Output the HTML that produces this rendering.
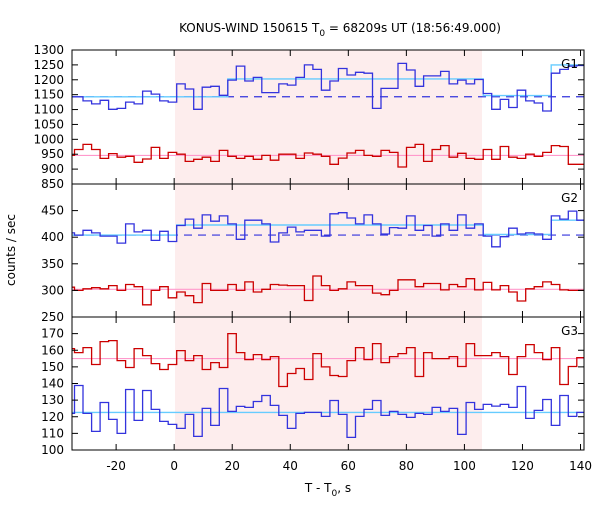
<!DOCTYPE html>
<html><head><meta charset="utf-8">
<style>
body{margin:0;background:#fff;}
svg text{font-family:"DejaVu Sans","Liberation Sans",sans-serif;font-size:12px;fill:#000;}
</style></head>
<body>
<svg id="chart" width="600" height="500" viewBox="0 0 600 500" xmlns="http://www.w3.org/2000/svg">
<defs><clipPath id="clip"><rect x="72" y="50" width="512" height="400"/></clipPath></defs>
<rect x="175" y="50" width="307" height="400" fill="#fdeded"/>
<g id="marks" clip-path="url(#clip)"></g>
<g id="axes"></g>
<text x="340" y="32" text-anchor="middle">KONUS-WIND 150615 T<tspan dy="4" font-size="9">0</tspan><tspan dy="-4"> = 68209s UT (18:56:49.000)</tspan></text>
<text transform="translate(15,250) rotate(-90)" text-anchor="middle">counts / sec</text>
<text x="328" y="492" text-anchor="middle">T - T<tspan dy="4" font-size="9">0</tspan><tspan dy="-4">, s</tspan></text>
</svg>
<script>
const binStart = -37.26;
const binWidth = 2.933;
const g1Blue = [1143,1143,1129,1119,1131,1101,1104,1125,1119,1162,1152,1129,1125,1186,1169,1101,1175,1178,1148,1199,1246,1196,1208,1157,1157,1186,1182,1208,1250,1235,1165,1196,1238,1216,1225,1222,1104,1171,1171,1255,1233,1178,1213,1213,1228,1186,1199,1186,1201,1154,1101,1134,1107,1165,1129,1122,1095,1222,1235,1246,1248];
const g1Red = [946,966,983,966,936,952,940,943,923,934,973,936,956,950,926,933,940,926,963,943,936,943,933,946,930,950,950,936,954,950,943,916,937,954,963,946,943,963,956,907,973,983,926,966,979,940,953,936,933,966,933,976,940,936,950,943,956,979,976,916,916];
const g2Blue = [408,404,413,408,402,402,389,425,410,413,394,411,392,422,434,417,442,430,440,425,396,432,432,425,391,408,419,410,413,413,402,444,446,436,425,442,425,406,418,417,440,413,422,402,425,413,442,417,425,402,382,401,417,406,408,406,396,440,434,449,432];
const g2Red = [306,300,303,305,303,309,300,311,307,273,300,307,286,297,290,277,313,300,300,311,300,316,297,302,311,310,309,309,281,327,309,300,303,316,309,309,295,292,300,320,320,307,313,313,301,311,307,322,301,315,301,309,297,280,303,307,316,311,301,300,300];
const g3Red = [161,158.6,161.6,151.4,165.2,165.8,153.8,149.6,161,156.8,152,148.4,151.4,159.8,153.8,156.8,148.4,152.6,149.6,170,158.6,154.4,157.4,154.4,156.2,138.2,146,149,142.4,158,150,144.8,144.2,153.8,161.6,154.4,164,152.6,156.2,158,161.6,144.2,158.6,155,155,156.2,150.2,164,156.8,156.8,158.6,156.2,145.4,156.2,163.4,158.6,154.4,161.6,139.4,150.2,155.6];
const g3Blue = [122,138.8,122,111.2,128.6,118.4,110,136.4,117.8,135.8,124.4,117.2,115.4,113,121.4,108.2,125,114.8,137,123.2,126.2,125.6,129.2,132.8,126.8,120.8,113,122,122.6,122.6,120.2,129.8,121.4,107.6,120.2,124.4,129.8,120.8,123.2,121.4,119.6,122,121.4,125.6,123.2,125,109.4,128.6,124.4,127.4,126.4,127.4,125.6,138.2,119,123.8,130.4,114.8,132.8,120.2,122.6];
// model levels: [tStart, tEnd, value]
const g1Model = [[-40,18.47,1143],[18.47,106.46,1203],[106.46,129.9,1147],[129.9,145,1250]];
const g2Model = [[-40,0.87,404],[0.87,106.46,423],[106.46,129.9,405],[129.9,145,432]];
const g3Model = [[-40,145,122.6]];
const g1Bg = 1143, g2Bg = 404;
const g1RedLevel = 946, g2RedLevel = 302, g3RedLevel = 155;
const xTicks = [-20,0,20,40,60,80,100,120,140];
const g1Ticks = [850,900,950,1000,1050,1100,1150,1200,1250,1300];
const g2Ticks = [250,300,350,400,450];
const g3Ticks = [100,110,120,130,140,150,160,170];

const X0=72,X1=584,TMIN=-35.2,TMAX=141.2;
const xs = t => X0+(t-TMIN)/(TMAX-TMIN)*(X1-X0);
const panels = [
 {name:'g1',top:50,bot:184,vmin:850,vmax:1300,ticks:g1Ticks,label:'G1',blue:g1Blue,red:g1Red,model:g1Model,bg:g1Bg,pink:g1RedLevel},
 {name:'g2',top:184,bot:317,vmin:250,vmax:500,ticks:g2Ticks,label:'G2',blue:g2Blue,red:g2Red,model:g2Model,bg:g2Bg,pink:g2RedLevel},
 {name:'g3',top:317,bot:450,vmin:100,vmax:180,ticks:g3Ticks,label:'G3',blue:g3Blue,red:g3Red,model:g3Model,bg:null,pink:g3RedLevel}
];
const NS='http://www.w3.org/2000/svg';
const marks=document.getElementById('marks'), axes=document.getElementById('axes');
function mk(tag,attrs,parent){const e=document.createElementNS(NS,tag);for(const k in attrs)e.setAttribute(k,attrs[k]);parent.appendChild(e);return e;}
function stepPath(vals,ys){let d='';vals.forEach((v,i)=>{const a=xs(binStart+i*binWidth),b=xs(binStart+(i+1)*binWidth),y=ys(v);d+=(i?'L':'M')+a.toFixed(1)+','+y.toFixed(1)+'L'+b.toFixed(1)+','+y.toFixed(1);});return d;}
panels.forEach(p=>{
 const ys=v=>p.bot-(v-p.vmin)/(p.vmax-p.vmin)*(p.bot-p.top);
 // pink red-level
 let e=mk('line',{x1:X0,x2:X1,y1:ys(p.pink),y2:ys(p.pink),stroke:'#ff99cc','stroke-width':1.2},marks);
 
 
 if(p.bg!==null){
  e=mk('line',{x1:X0,x2:X1,y1:ys(p.bg),y2:ys(p.bg),stroke:'#3333dd','stroke-width':1.2,'stroke-dasharray':'8,6'},marks);
  
  
 }
 let d='';p.model.forEach((s,i)=>{const y=ys(s[2]);d+=(i?'L':'M')+xs(s[0]).toFixed(1)+','+y.toFixed(1)+'L'+xs(s[1]).toFixed(1)+','+y.toFixed(1);});
 e=mk('path',{d:d,fill:'none',stroke:'#66ccff','stroke-width':1.4},marks);
 
 
 e=mk('path',{d:stepPath(p.red,ys),fill:'none',stroke:'#cc0000','stroke-width':1.3},marks);
 
 
 e=mk('path',{d:stepPath(p.blue,ys),fill:'none',stroke:'#3333dd','stroke-width':1.3},marks);
 
 
 // frame
 e=mk('rect',{x:X0,y:p.top,width:X1-X0,height:p.bot-p.top,fill:'none',stroke:'#000','stroke-width':1},axes);
 
 
 p.ticks.forEach(v=>{
  const y=ys(v);
  if(y<p.top-0.5||y>p.bot+0.5)return;
  mk('line',{x1:X0,x2:X0+6,y1:y,y2:y,stroke:'#000'},axes);
  mk('line',{x1:X1,x2:X1-6,y1:y,y2:y,stroke:'#000'},axes);
  const t=mk('text',{x:X0-8,y:y+4,'text-anchor':'end'},axes);
  t.textContent=v;
  
  
 });
 xTicks.forEach(v=>{
  const x=xs(v);
  mk('line',{x1:x,x2:x,y1:p.top,y2:p.top+6,stroke:'#000'},axes);
  mk('line',{x1:x,x2:x,y1:p.bot,y2:p.bot-6,stroke:'#000'},axes);
 });
 const l=mk('text',{x:578,y:p.top+18,'text-anchor':'end'},axes);
 l.textContent=p.label;
 
 
});
xTicks.forEach(v=>{
 const t=mk('text',{x:xs(v),y:470,'text-anchor':'middle'},axes);
 t.textContent=v;
 
 
});
</script>
</body></html>
